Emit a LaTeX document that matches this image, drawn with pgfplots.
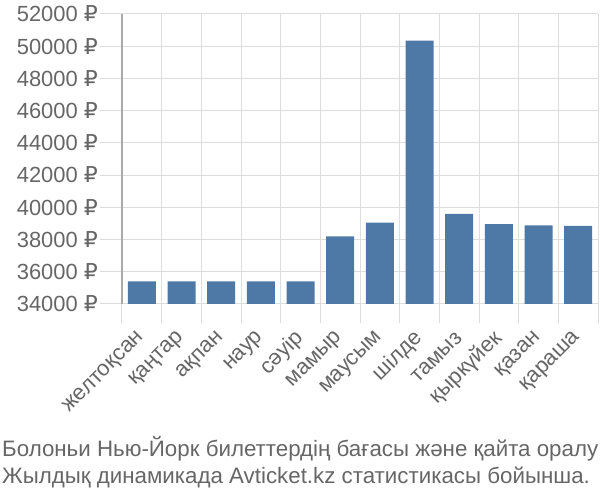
\documentclass[border=0pt]{standalone}
\usepackage{pgfplots}
\pgfplotsset{compat=1.18}
\usepackage{fontspec}
\setmainfont{Liberation Sans}
\newfontfamily\rubfont{DejaVu Sans}
\newcommand{\rub}{{\rubfont ₽}}
\definecolor{barblue}{HTML}{4E79A7}
\definecolor{txt}{HTML}{666666}
\definecolor{gridc}{HTML}{DDDDDD}
\definecolor{axc}{HTML}{AAAAAA}
\begin{document}
\begin{tikzpicture}[x=1bp,y=1bp]
\path[use as bounding box] (-122,-196) rectangle (478,304);
\begin{axis}[
  at={(0,0)}, anchor=south west,
  scale only axis, width=476bp, height=290bp,
  xmin=-0.5, xmax=11.5, ymin=34000, ymax=52000,
  scaled y ticks=false,
  ytick={34000,36000,...,52000},
  yticklabels={34000 \rub,36000 \rub,38000 \rub,40000 \rub,42000 \rub,44000 \rub,46000 \rub,48000 \rub,50000 \rub,52000 \rub},
  xtick={0,...,11},
  xticklabels={желтоқсан,қаңтар,ақпан,наур,сәуір,мамыр,маусым,шілде,тамыз,қыркүйек,қазан,қараша},
  minor xtick={-0.5,0.5,...,11.5},
  xminorgrids, ymajorgrids,
  grid style={gridc, line width=1bp},
  minor grid style={gridc, line width=1bp},
  major x tick style={draw=none},
  minor x tick style={gridc, line width=1bp},
  major y tick style={gridc, line width=1bp},
  tick align=outside,
  major tick length=22bp, minor tick length=19bp,
  axis x line*=bottom, axis y line*=left,
  x axis line style={draw=none},
  y axis line style={axc, line width=1.2bp},
  tick label style={font=\fontsize{22}{25}\selectfont, text=txt},
  xticklabel style={rotate=45, anchor=east, inner sep=0pt},
  xticklabel shift=9bp,
  yticklabel style={inner sep=0pt, xshift=-2bp},
]
\addplot[ybar, bar width=28bp, fill=barblue, draw=none] coordinates {
  (0,35400) (1,35400) (2,35400) (3,35400) (4,35400) (5,38200)
  (6,39050) (7,50350) (8,39600) (9,38950) (10,38880) (11,38850)
};
\end{axis}
\node[anchor=base west, inner sep=0pt, text=txt, font=\fontsize{22.4}{25}\selectfont] at (-120,-153) {Болоньи Нью-Йорк билеттердің бағасы және қайта оралу};
\node[anchor=base west, inner sep=0pt, text=txt, font=\fontsize{22.4}{25}\selectfont] at (-120,-179) {Жылдық динамикада Avticket.kz статистикасы бойынша.};
\end{tikzpicture}
\end{document}
